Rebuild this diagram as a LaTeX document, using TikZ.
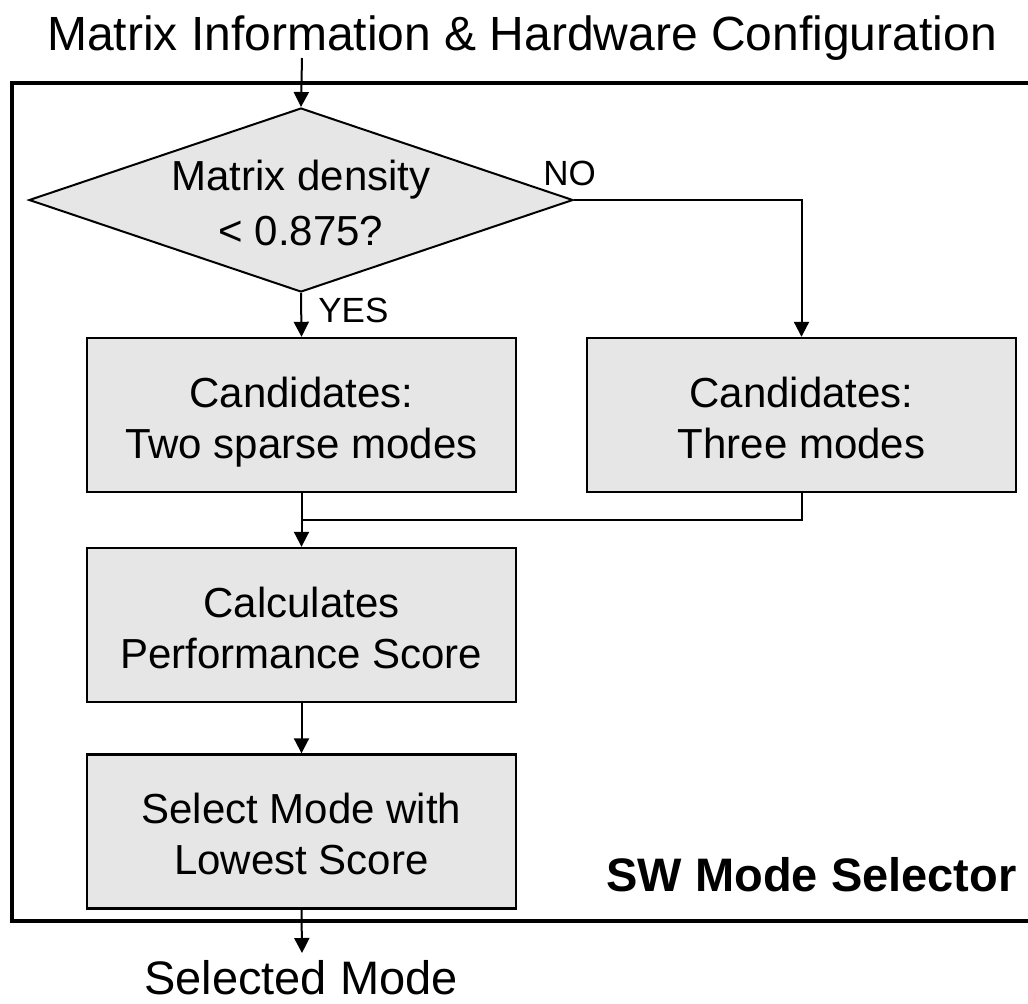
\documentclass[tikz,border=0pt]{standalone}
\usepackage{fontspec}
\setmainfont{Liberation Sans}
\usetikzlibrary{arrows.meta,shapes.geometric}
\definecolor{boxfill}{RGB}{230,230,230}
% two centred lines with fixed ascent/descent so every box centres alike
\newcommand{\twolines}[2]{\rule{0pt}{22pt}#1\\#2\rule[-4.5pt]{0pt}{4.5pt}}
\begin{document}
\begin{tikzpicture}[x=0.5pt,y=-0.5pt,
  stepbox/.style={draw=black, line width=1.2pt, fill=boxfill,
    minimum width=214.5pt, minimum height=77pt, inner sep=0pt,
    align=center, font=\fontsize{21}{25.5}\selectfont},
  decision/.style={diamond, draw=black, line width=1pt, fill=boxfill,
    minimum width=272pt, minimum height=92pt, inner sep=0pt, aspect=2.96},
  dectext/.style={align=center, inner sep=0pt, font=\fontsize{21}{27.5}\selectfont},
  branch/.style={inner sep=0pt, font=\fontsize{17.5}{21}\selectfont},
  bigtext/.style={inner sep=0pt, font=\fontsize{23.5}{28}\selectfont},
  conn/.style={line width=1pt, draw=black},
  arrowto/.style={-{Triangle[length=7.5pt,width=7.5pt]}},
  frame/.style={line width=2pt, draw=black}]
\useasboundingbox (0,0) rectangle (1028,1003);
\clip (0,0) rectangle (1028,1003);

% enclosing block (its right side runs past the page edge)
\draw[frame] (12,83) rectangle (1040,921);

% input / output labels
\node[bigtext, anchor=base, font=\fontsize{24}{29}\selectfont] (title) at (522,50) {Matrix Information \& Hardware Configuration};
\node[bigtext, anchor=base] (sel) at (301,994) {Selected Mode};
\node[bigtext, anchor=base east, font=\fontsize{23.5}{28}\selectfont\bfseries] (swlabel) at (1017,891) {SW Mode Selector};

% decision
\node[decision] (dec) at (301,200) {};
\node[dectext] (dectxt) at (dec.center) {\twolines{Matrix density}{< 0.875?}};

% process boxes
\node[stepbox] (two) at (301.5,415) {\twolines{Candidates:}{Two sparse modes}};
\node[stepbox] (three) at (801.5,415) {\twolines{Candidates:}{Three modes}};
\node[stepbox] (calc) at (301.5,625) {\twolines{Calculates}{Performance Score}};
\node[stepbox] (pick) at (301.5,831.5) {\twolines{Select Mode with}{Lowest Score}};

% connector ends
\coordinate (in) at (302,58);
\coordinate (merge) at (302,520);
\coordinate (out) at (302,953);

% connectors
\draw[conn, arrowto] (in) -- (dec.north);
\draw[conn, arrowto] (dec.south) -- (two.north);
\draw[conn, arrowto] (dec.east) -| (three.north);
\draw[conn, arrowto] (two.south) -- (calc.north);
\draw[conn] (three.south) |- (merge);
\draw[conn, arrowto] (calc.south) -- (pick.north);
\draw[conn, arrowto] (pick.south) -- (out);

% branch labels
\node[branch, anchor=base west] (nolabel) at (543,185) {NO};
\node[branch, anchor=base west] (yeslabel) at (318,322) {YES};
\end{tikzpicture}
\end{document}
